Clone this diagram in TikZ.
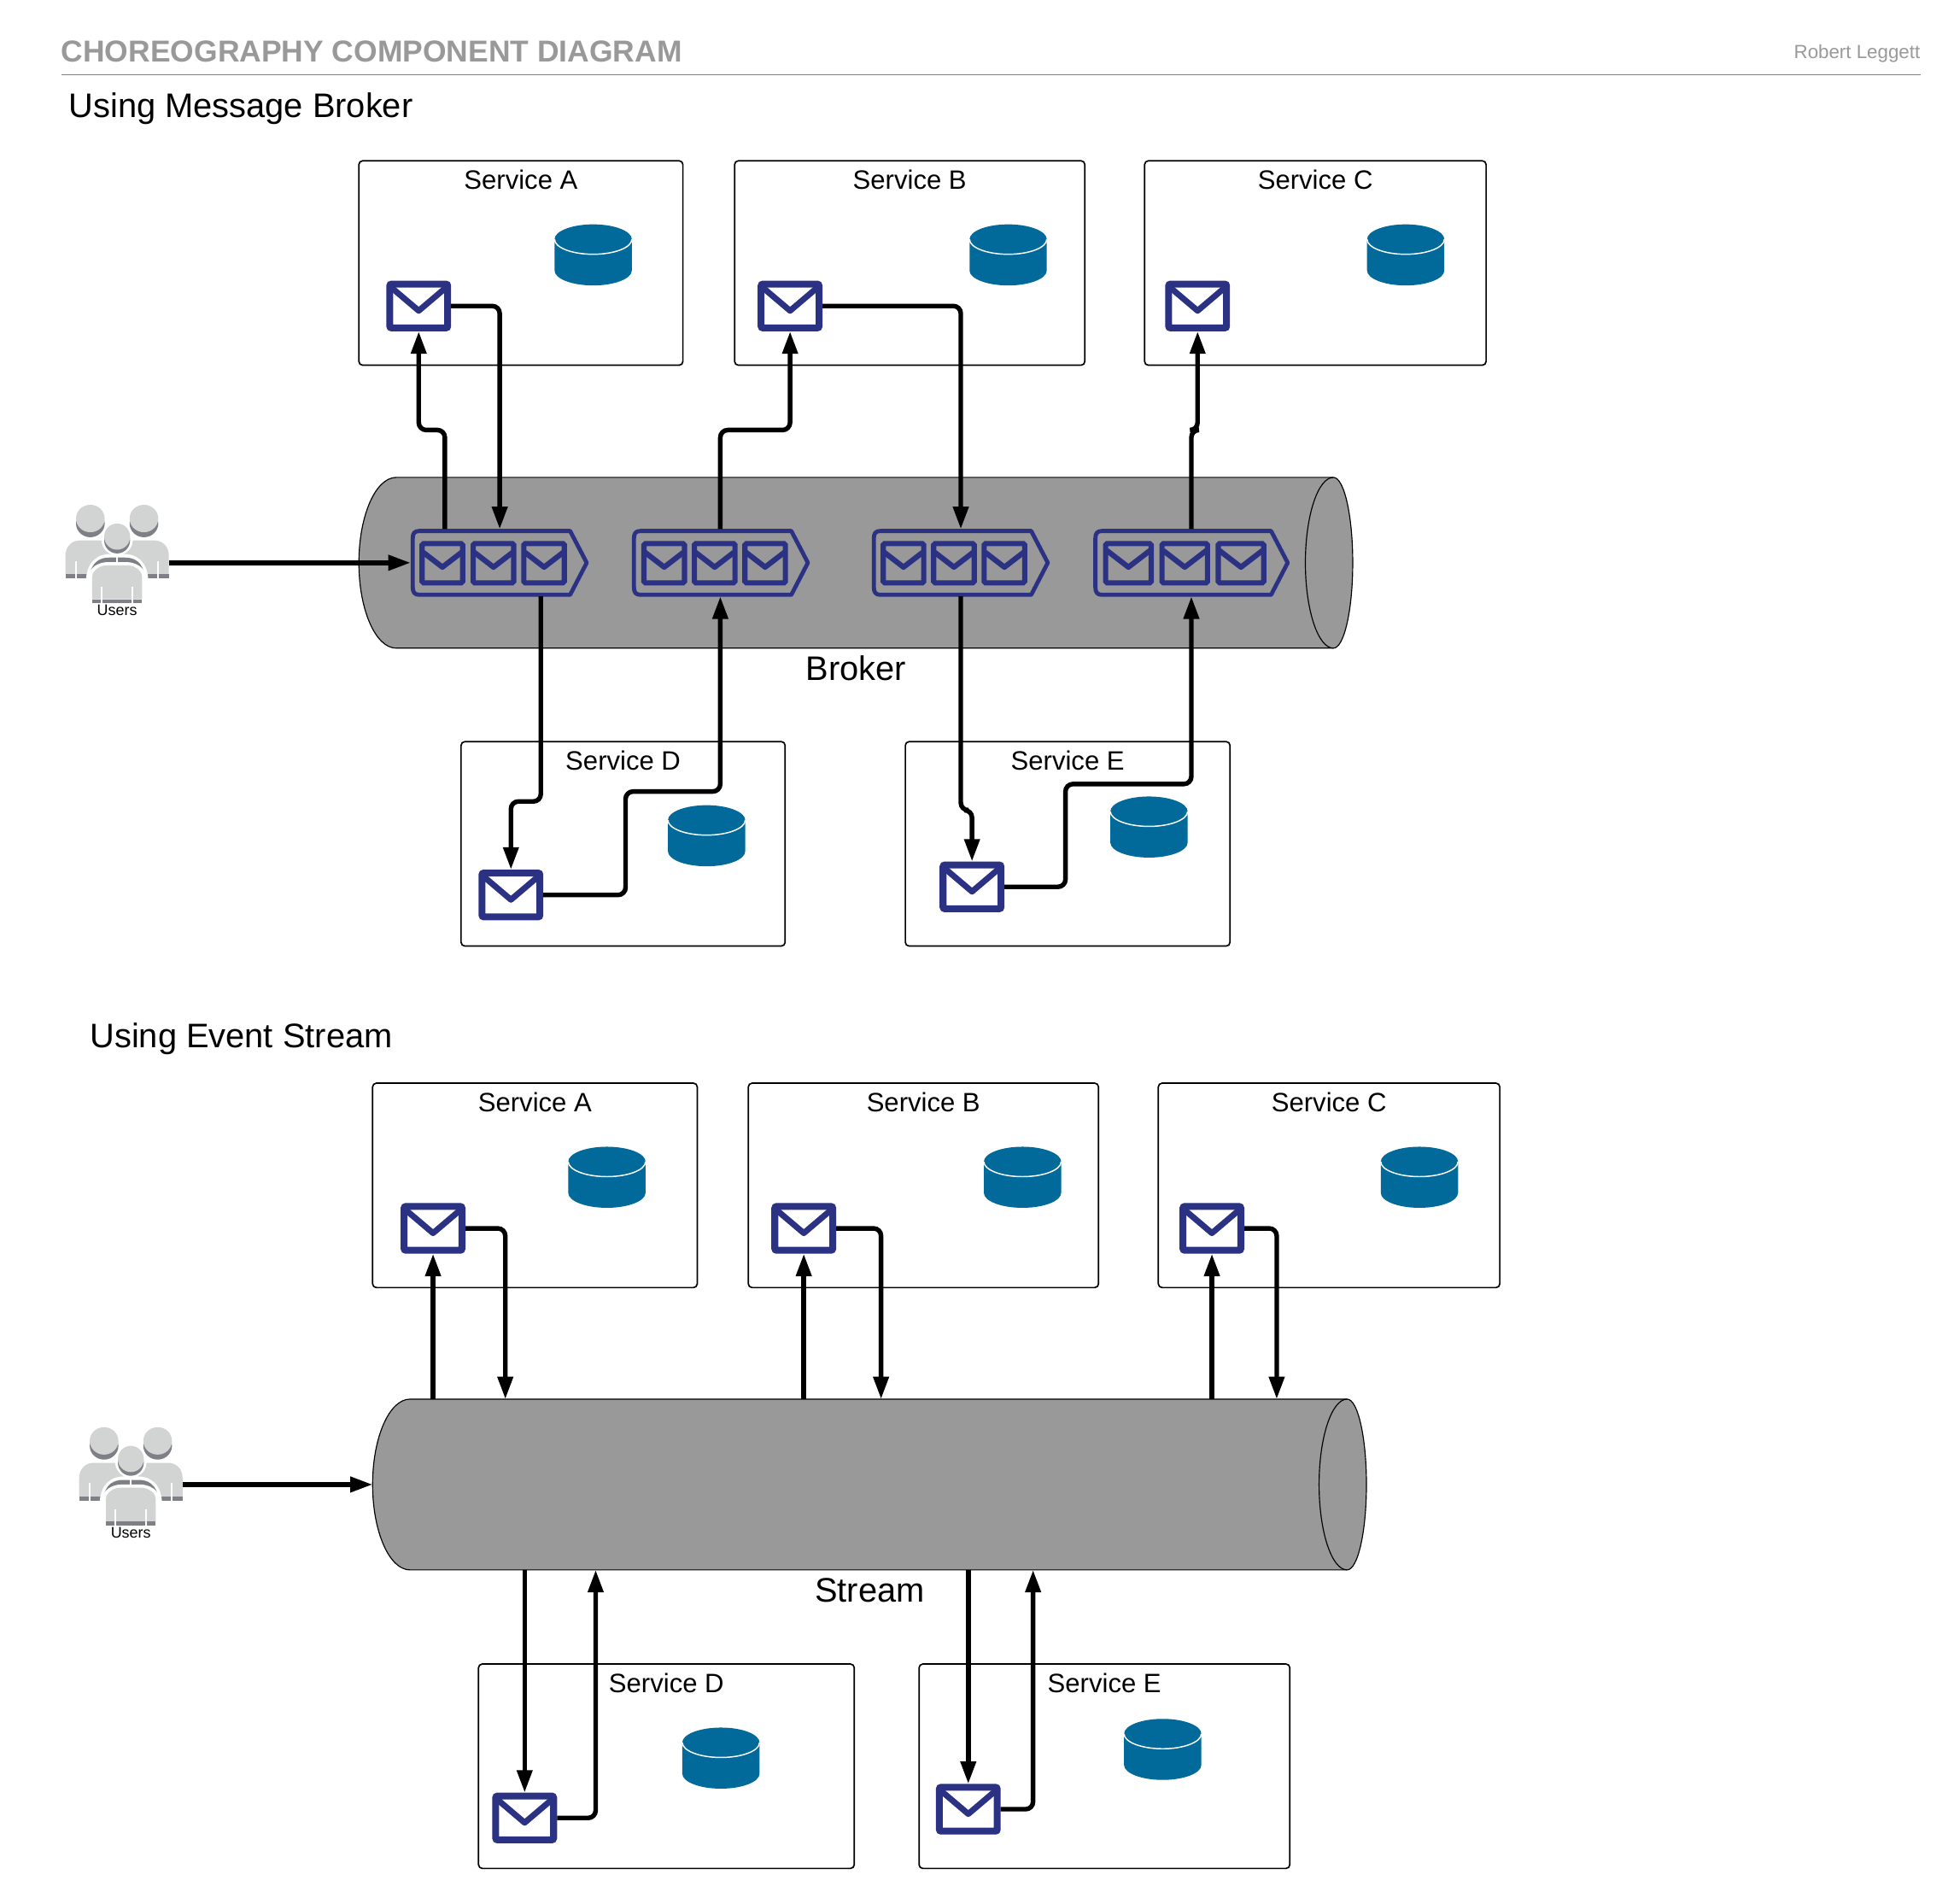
\documentclass[tikz,border=0pt]{standalone}
\usepackage{fontspec}
\setmainfont{Liberation Sans}
\usetikzlibrary{arrows.meta,calc}
\definecolor{envblue}{HTML}{2B3283}
\definecolor{dbblue}{HTML}{026A9A}
\definecolor{cylgray}{HTML}{999999}
\definecolor{ulight}{HTML}{D2D3D3}
\definecolor{udark}{HTML}{7F7F87}
\definecolor{titlegray}{HTML}{999999}
\tikzset{
  svcbox/.style={draw=black,fill=white,line width=1.15pt,rounded corners=3pt,inner sep=0pt,outer sep=0pt,anchor=north west},
  svclabel/.style={font=\fontsize{21.3}{26}\selectfont,anchor=base,inner sep=0pt},
  heading/.style={font=\fontsize{27.3}{32}\selectfont,anchor=base west,inner sep=0pt},
  cyllabel/.style={font=\fontsize{27.3}{32}\selectfont,anchor=base,inner sep=0pt},
  envbox/.style={draw=envblue,line width=5.5pt,rounded corners=1.5pt,minimum width=46.5pt,minimum height=35.2pt,inner sep=0pt},
  envflap/.style={draw=envblue,line width=4.8pt,line join=round,line cap=butt},
  conn/.style={draw=black,line width=3.7pt,rounded corners=6pt},
  connarrow/.style={conn,-{Triangle[length=18pt,width=12pt]}},
  ghost/.style={inner sep=0pt,outer sep=0pt,draw=none},
}
\newcommand{\envlp}[3]{%
  \node[envbox] (#1) at (#2,#3) {};
  \draw[envflap] (#2-22.5,#3-15.3) -- (#2,#3+3.8) -- (#2+22.5,#3-15.3);
}
% database: centre x, top y
\newcommand{\dbase}[2]{%
  \fill[dbblue] (#1-31,#2+12) .. controls (#1-31,#2+5.4) and (#1-17.1,#2) .. (#1,#2)
     .. controls (#1+17.1,#2) and (#1+31,#2+5.4) .. (#1+31,#2+12)
     -- (#1+31,#2+37) .. controls (#1+31,#2+43.6) and (#1+17.1,#2+49) .. (#1,#2+49)
     .. controls (#1-17.1,#2+49) and (#1-31,#2+43.6) .. (#1-31,#2+37) -- cycle;
  \draw[white,line width=1pt] (#1-31,#2+12) .. controls (#1-31,#2+18.6) and (#1-17.1,#2+24) .. (#1,#2+24)
     .. controls (#1+17.1,#2+24) and (#1+31,#2+18.6) .. (#1+31,#2+12);
}
\newcommand{\qenv}[2]{%
  \draw[envblue,line width=4.2pt,rounded corners=1.2pt] ({#1-#2/2+2.1},436.1) rectangle ({#1+#2/2-2.1},467.6);
  \draw[envblue,line width=4.3pt,line join=round] ({#1-#2/2+3},{455-0.77*(#2/2-3)}) -- (#1,455) -- ({#1+#2/2-3},{455-0.77*(#2/2-3)});
}
% name, x0, x1, three centres, envelope width
\newcommand{\queue}[7]{%
  \path let \n1={(#2+#3)/2},\n2={#3-#2} in node[ghost,minimum width=\n2 pt,minimum height=54pt] (#1) at (\n1,451.5) {};
  \draw[envblue,line width=3.3pt,line join=round] (#2+7,426) -- (#3-15,426) -- (#3-1.7,451.5) -- (#3-15,477.2) -- (#2+7,477.2)
     .. controls (#2+3,477.2) and (#2+1.7,475) .. (#2+1.7,471) -- (#2+1.7,432) .. controls (#2+1.7,428) and (#2+3,426) .. (#2+7,426) -- cycle;
  \qenv{#4}{#7}\qenv{#5}{#7}\qenv{#6}{#7}
}
% cylinder: name, x0, x1, top, bottom
\newcommand{\cyl}[5]{%
  \path let \n1={(#2+#3)/2},\n2={(#4+#5)/2},\n3={#3-#2},\n4={#5-#4} in node[ghost,minimum width=\n3 pt,minimum height=\n4 pt] (#1) at (\n1,\n2) {};
  \draw[fill=cylgray,draw=black,line width=.8pt]
    (#2+30,#4) -- (#3-15.5,#4)
    .. controls (#3-6.9,#4) and (#3,#4+30.7) .. (#3,#4+68.5)
    .. controls (#3,#4+106.3) and (#3-6.9,#5) .. (#3-15.5,#5)
    -- (#2+30,#5)
    .. controls (#2+13.4,#5) and (#2,#4+106.3) .. (#2,#4+68.5)
    .. controls (#2,#4+30.7) and (#2+13.4,#4) .. (#2+30,#4) -- cycle;
  \draw[draw=black,line width=.8pt] (#3-15.5,#4)
    .. controls (#3-27.9,#4) and (#3-38,#4+30.7) .. (#3-38,#4+68.5)
    .. controls (#3-38,#4+106.3) and (#3-27.9,#5) .. (#3-15.5,#5);
}
% users icon
\newcommand{\usersicon}[3]{%
  \node[ghost,minimum width=83pt,minimum height=80pt] (#1) at (#2,#3) {};
  \begin{scope}[shift={(#2,#3)}]
    \foreach \sx in {-1,1}{
      \begin{scope}[xscale=\sx]
        \fill[udark] (21.5,-31) ellipse[x radius=11.5,y radius=11];
        \fill[ulight] (21.5,-35) ellipse[x radius=11.5,y radius=11];
        \fill[ulight] (41.5,9.6) -- (41.5,-5) .. controls (41.5,-13) and (36,-17.4) .. (30,-17.4) -- (5,-17.4) -- (5,9.6) -- cycle;
        \fill[udark] (41.5,9.6) rectangle (5,12.8);
        \draw[white,line width=1.2pt] (33,-1) -- (33,12.8);
      \end{scope}
    }
    \fill[white] (0,-17.5) ellipse[x radius=12.5,y radius=12];
    \fill[white] (-25,14) .. controls (-24,-2) and (-14,-6.5) .. (-6,-6.5) -- (6,-6.5) .. controls (14,-6.5) and (24,-2) .. (25,14) -- cycle;
    \fill[udark] (0,-17.5) ellipse[x radius=10.4,y radius=10.5];
    \fill[ulight] (0,-20.5) ellipse[x radius=10.4,y radius=10.5];
    \fill[udark] (-22.4,12.8) .. controls (-21,-1) and (-13,-3.7) .. (-6,-3.7) -- (6,-3.7) .. controls (13,-3.7) and (21,-1) .. (22.4,12.8) -- cycle;
    \draw[white,line width=1.2pt] (0,-7) -- (0,1);
    \fill[white] (-23,34) -- (-23,12) .. controls (-23,4) and (-14,0) .. (-8,0) -- (8,0) .. controls (14,0) and (23,4) .. (23,12) -- (23,34) -- cycle;
    \fill[ulight] (-20,29.8) -- (-20,12) .. controls (-20,6) and (-13,2.5) .. (-8,2.5) -- (8,2.5) .. controls (13,2.5) and (20,6) .. (20,12) -- (20,29.8) -- cycle;
    \fill[udark] (-20,29.8) rectangle (20,33);
    \draw[white,line width=1.2pt] (-12.4,19.6) -- (-12.4,33) (12,19.6) -- (12,33);
  \end{scope}
}
\begin{document}
\begin{tikzpicture}[x=1pt,y=-1pt]
\useasboundingbox (0,0) rectangle (1568,1527);
\fill[white] (0,0) rectangle (1568,1527);

% header
\node[anchor=base west,inner sep=0pt,font=\fontsize{24.3}{30}\bfseries\selectfont,text=titlegray] (title) at (49,50) {CHOREOGRAPHY COMPONENT DIAGRAM};
\node[anchor=base east,inner sep=0pt,font=\fontsize{15.3}{18}\selectfont,text=titlegray] (author) at (1541,47) {Robert Leggett};
\coordinate (hl) at (49,60); \coordinate (hr) at (1541,60);
\draw[draw=gray,line width=1pt] (hl) -- (hr);
\node[heading] (h1) at (55,94.5) {Using Message Broker};
\node[heading] (h2) at (72,840.5) {Using Event Stream};

% ----- broker services
\node[svcbox,minimum width=260pt,minimum height=164pt] (sA) at (288,129) {};
\node[svcbox,minimum width=281pt,minimum height=164pt] (sB) at (589.5,129) {};
\node[svcbox,minimum width=274pt,minimum height=164pt] (sC) at (918.5,129) {};
\node[svcbox,minimum width=260pt,minimum height=164pt] (sD) at (370,595) {};
\node[svcbox,minimum width=260.5pt,minimum height=164pt] (sE) at (726.5,595) {};
\dbase{476}{180}\dbase{809}{180}\dbase{1128}{180}\dbase{567}{646}\dbase{922}{639}
\envlp{eA}{336}{245.5}\envlp{eB}{634}{245.5}\envlp{eC}{961}{245.5}\envlp{eD}{410}{718}\envlp{eE}{780}{711.5}

\cyl{cb}{288}{1085.5}{383}{520}
\queue{qa}{329.5}{472.5}{355}{396}{436.6}{36.7}
\queue{qb}{507}{650}{533}{573.5}{614}{36.7}
\queue{qc}{699.5}{842.5}{725}{765.5}{806}{36.7}
\queue{qd}{877.3}{1035}{905.5}{950.7}{995.8}{40.7}
\usersicon{ua}{94}{451}
\node[inner sep=0pt,anchor=base,font=\fontsize{12.3}{14}\selectfont] (ual) at (94,494) {Users};
\node[cyllabel] (bl) at (687,545.5) {Broker};

\node[svclabel] (lA) at ($(sA.north)+(0,23)$) {Service A};
\node[svclabel] (lB) at ($(sB.north)+(0,23)$) {Service B};
\node[svclabel] (lC) at ($(sC.north)+(0,23)$) {Service C};
\node[svclabel] (lD) at ($(sD.north)+(0,23)$) {Service D};
\node[svclabel] (lE) at ($(sE.north)+(0,23)$) {Service E};

\draw[connarrow] (ua.east |- 0,451.5) -- (qa.west);
\draw[connarrow] (qa.north -| 357,0) -- (357,345) -- (336,345) -- (eA.south);
\draw[connarrow] (eA.east) -- (401,245.5) -- (qa.north -| 401,0);
\draw[connarrow] (qb.north -| 578,0) -- (578,345) -- (634,345) -- (eB.south);
\draw[connarrow] (eB.east) -- (771,245.5) -- (qc.north -| 771,0);
\draw[connarrow] (qd.north -| 956,0) -- (956,345) -- (961,345) -- (eC.south);
\draw[connarrow] (qa.south -| 434,0) -- (434,643) -- (410,643) -- (eD.north);
\draw[connarrow] (eD.east) -- (502,718) -- (502,635) -- (578,635) -- (qb.south -| 578,0);
\draw[connarrow] (qc.south -| 771,0) -- (771,650) -- (780,650) -- (eE.north);
\draw[connarrow] (eE.east) -- (855,711.5) -- (855,629) -- (956,629) -- (qd.south -| 956,0);

% ----- stream services
\node[svcbox,minimum width=260.5pt,minimum height=164pt] (tA) at (299,869) {};
\node[svcbox,minimum width=281pt,minimum height=164pt] (tB) at (600.5,869) {};
\node[svcbox,minimum width=274pt,minimum height=164pt] (tC) at (929.5,869) {};
\node[svcbox,minimum width=301.5pt,minimum height=164pt] (tD) at (384,1335) {};
\node[svcbox,minimum width=297.5pt,minimum height=164pt] (tE) at (737.5,1335) {};
\dbase{487}{920}\dbase{820.5}{920}\dbase{1139}{920}\dbase{578.5}{1386}\dbase{933}{1379}
\envlp{fA}{347.5}{985.5}\envlp{fB}{645}{985.5}\envlp{fC}{972.5}{985.5}\envlp{fD}{421}{1458.5}\envlp{fE}{777}{1451.5}

\cyl{cs}{299}{1096.5}{1122.5}{1259.5}
\usersicon{ub}{105}{1191}
\node[inner sep=0pt,anchor=base,font=\fontsize{12.3}{14}\selectfont] (ubl) at (105,1234) {Users};
\node[cyllabel] (sl) at (698,1285) {Stream};

\node[svclabel] (mA) at ($(tA.north)+(0,23)$) {Service A};
\node[svclabel] (mB) at ($(tB.north)+(0,23)$) {Service B};
\node[svclabel] (mC) at ($(tC.north)+(0,23)$) {Service C};
\node[svclabel] (mD) at ($(tD.north)+(0,23)$) {Service D};
\node[svclabel] (mE) at ($(tE.north)+(0,23)$) {Service E};

\draw[connarrow] (ub.east) -- (cs.west);
\draw[connarrow] (cs.north -| fA.south) -- (fA.south);
\draw[connarrow] (fA.east) -- (405.5,985.5) -- (cs.north -| 405.5,0);
\draw[connarrow] (cs.north -| fB.south) -- (fB.south);
\draw[connarrow] (fB.east) -- (707,985.5) -- (cs.north -| 707,0);
\draw[connarrow] (cs.north -| fC.south) -- (fC.south);
\draw[connarrow] (fC.east) -- (1024.5,985.5) -- (cs.north -| 1024.5,0);
\draw[connarrow] (cs.south -| fD.north) -- (fD.north);
\draw[connarrow] (fD.east) -- (478,1458.5) -- (cs.south -| 478,0);
\draw[connarrow] (cs.south -| fE.north) -- (fE.north);
\draw[connarrow] (fE.east) -- (829,1451.5) -- (cs.south -| 829,0);
\end{tikzpicture}
\end{document}
